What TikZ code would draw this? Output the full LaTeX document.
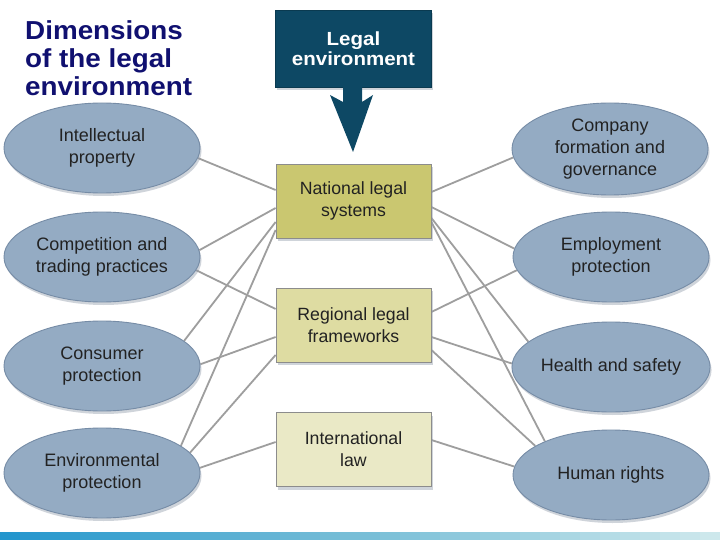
\documentclass[tikz,border=0pt]{standalone}
\usepackage{fontspec}
\setmainfont{Liberation Sans}
\newfontfamily\titlefont[FakeStretch=1.07]{Liberation Sans}
\newfontfamily\legalfont[FakeStretch=1.08]{Liberation Sans}
\usetikzlibrary{shapes.geometric,shadows,calc}
\pgfdeclarelayer{background}
\pgfsetlayers{background,main}
\definecolor{titleblue}{RGB}{16,16,112}
\definecolor{legalbg}{RGB}{13,72,100}
\definecolor{ellfill}{RGB}{148,171,195}
\definecolor{ellline}{RGB}{118,140,166}
\definecolor{natfill}{RGB}{202,199,112}
\definecolor{regfill}{RGB}{222,220,162}
\definecolor{intfill}{RGB}{234,233,198}
\definecolor{connclr}{RGB}{158,158,158}
\definecolor{txtclr}{RGB}{34,34,34}
\definecolor{boxline}{RGB}{140,140,140}
\definecolor{stripL}{RGB}{36,150,205}
\definecolor{stripM}{RGB}{120,190,215}
\definecolor{stripR}{RGB}{205,232,236}
\definecolor{shadowclr}{RGB}{150,160,175}
\tikzset{
  softshadow/.style={drop shadow={shadow xshift=1.5pt, shadow yshift=-3pt, fill=shadowclr, opacity=0.45}},
  ell/.style={ellipse, draw=ellline, line width=0.9pt, fill=ellfill,
    minimum width=196pt, minimum height=90pt, inner sep=0pt, align=center,
    text=txtclr, font=\fontsize{18}{22}\selectfont, softshadow},
  lawbox/.style={rectangle, draw=boxline, line width=0.8pt,
    minimum width=155pt, minimum height=74pt, inner sep=0pt, align=center,
    text=txtclr, font=\fontsize{17.7}{22}\selectfont, softshadow},
  conn/.style={draw=connclr, line width=1.8pt},
}
\begin{document}
\begin{tikzpicture}[x=1pt,y=-1pt]
\useasboundingbox (0,0) rectangle (720,540);

% title
\node[anchor=north west, inner sep=0pt, align=left, text=titleblue,
  font=\titlefont\bfseries\fontsize{26}{28}\selectfont] (title) at (25,20)
  {Dimensions\\of the legal\\environment};

% legal environment box
\node[rectangle, fill=legalbg, draw=legalbg!80!black, line width=0.6pt,
  minimum width=156pt, minimum height=77pt, inner sep=0pt, align=center,
  text=white, font=\legalfont\bfseries\fontsize{19}{20}\selectfont, softshadow]
  (legal) at (353.5,48.5) {Legal\\environment};
\fill[legalbg] (343,86) -- (343,102) -- (330,95) -- (353,152) -- (373,95) -- (362,102) -- (362,86) -- cycle;

% central boxes
\node[lawbox, fill=natfill] (nat) at (353.5,201) {National legal\\systems};
\node[lawbox, fill=regfill] (reg) at (353.5,325) {Regional legal\\frameworks};
\node[lawbox, fill=intfill] (intl) at (353.5,449.5) {International\\law};

% left ellipses
\node[ell] (ip)   at (102,148) {Intellectual\\property};
\node[ell] (comp) at (102,257) {Competition and\\trading practices};
\node[ell] (cons) at (102,366) {Consumer\\protection};
\node[ell] (env)  at (102,473) {Environmental\\protection};

% right ellipses
\node[ell, minimum height=92pt] (company) at (610,149) {Company\\formation and\\governance};
\node[ell] (emp)    at (611,257) {Employment\\protection};
\node[ell] (health) at (611,367) {Health and safety};
\node[ell] (human)  at (611,475) {Human rights};

\begin{pgfonlayer}{background}
  \fill[white] (0,0) rectangle (720,540);
  \foreach \i in {0,...,17} {
    \pgfmathtruncatemacro\p{round(\i/17*100)}
    \fill[stripM!\p!stripL] (\i*20,532) rectangle (\i*20+20.6,540);
  }
  \foreach \i in {18,...,35} {
    \pgfmathtruncatemacro\p{round((\i-18)/17*100)}
    \fill[stripR!\p!stripM] (\i*20,532) rectangle (\i*20+20.6,540);
  }
  % left connectors
  \draw[conn] (ip.-6.5)   -- ([yshift=11pt]nat.west);
  \draw[conn] (comp.4)    -- ([yshift=-7pt]nat.west);
  \draw[conn] (comp.-8.4) -- ([yshift=16pt]reg.west);
  \draw[conn] (cons.17.4) -- ([yshift=-21pt]nat.west);
  \draw[conn] (cons.1.8)  -- ([yshift=-12pt]reg.west);
  \draw[conn] (env.19.7)  -- ([yshift=-29pt]nat.west);
  \draw[conn] (env.13.7)  -- ([yshift=-30pt]reg.west);
  \draw[conn] (env.3.5)   -- ([yshift=7.5pt]intl.west);
  % right connectors
  \draw[conn] ([yshift=9pt]nat.east)    -- (company.185.2);
  \draw[conn] ([yshift=-6pt]nat.east)   -- (emp.175.9);
  \draw[conn] ([yshift=-17pt]nat.east)  -- (health.163);
  \draw[conn] ([yshift=-21pt]nat.east)  -- (human.153.4);
  \draw[conn] ([yshift=13pt]reg.east)   -- (emp.188.8);
  \draw[conn] ([yshift=-12pt]reg.east)  -- (health.178.8);
  \draw[conn] ([yshift=-25pt]reg.east)  -- (human.159.4);
  \draw[conn] ([yshift=9.5pt]intl.east) -- (human.175.3);
\end{pgfonlayer}
\end{tikzpicture}
\end{document}
